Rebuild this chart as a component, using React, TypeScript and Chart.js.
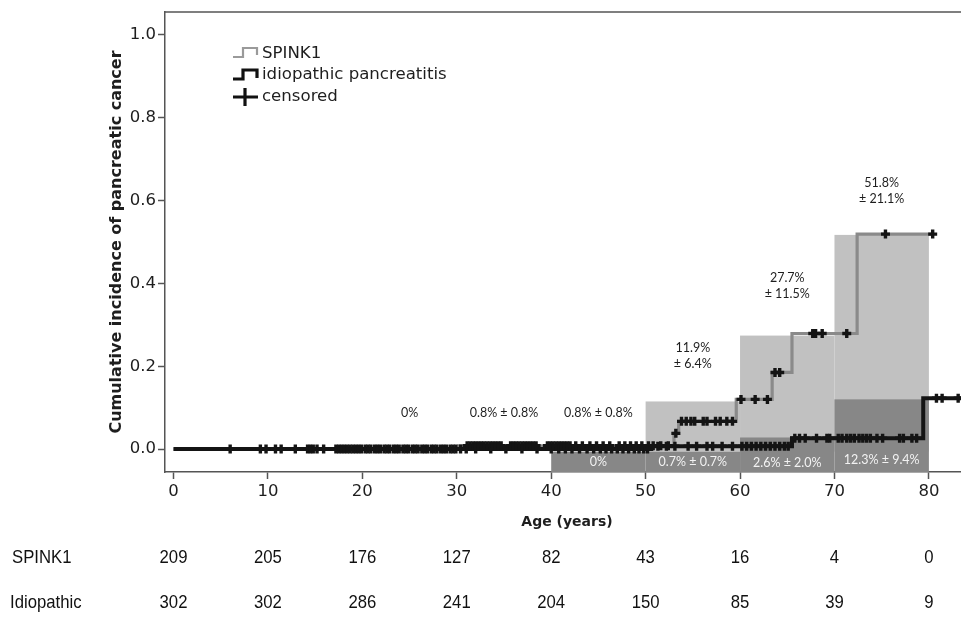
import React, { useEffect, useRef } from 'react';
import { Chart, registerables } from 'chart.js';

Chart.register(...registerables);

// ---- data ----
const xTickValues = [0, 10, 20, 30, 40, 50, 60, 70, 80];
const yTickValues = [0, 0.2, 0.4, 0.6, 0.8, 1.0];

// Kaplan-Meier style step curves (event ages and cumulative incidence after the event)
const spinkAges = [0, 30.2, 53.0, 53.5, 59.6, 63.4, 65.5, 72.4, 80.4];
const spinkLevels = [0, 0.008, 0.038, 0.067, 0.12, 0.185, 0.279, 0.519, 0.519];
const idioAges = [0, 50.6, 65.5, 79.4, 84];
const idioLevels = [0, 0.007, 0.026, 0.123, 0.123];

// censored observations (ages)
const spinkCensorAges = [31.1, 31.4, 31.7, 32.0, 32.3, 32.6, 32.9, 33.2, 33.5, 33.8, 34.1, 34.4, 34.7, 35.7, 36.0, 36.3, 36.6, 36.9, 37.2, 37.5, 37.8, 38.1, 38.4, 39.6, 39.9, 40.2, 40.5, 40.8, 41.1, 41.4, 41.7, 42.0, 42.6, 43.3, 44.1, 44.8, 45.5, 46.2, 47.2, 47.8, 48.4, 49.0, 49.6, 50.3, 50.8, 51.6, 52.4, 53.2, 53.8, 54.3, 54.8, 55.2, 56.1, 56.5, 57.4, 57.9, 58.6, 59.2, 60.1, 61.6, 62.9, 63.7, 64.2, 67.7, 68.0, 68.7, 71.3, 75.4, 80.4];
const idioCensorAges = [6.0, 9.2, 9.8, 10.8, 11.4, 12.9, 14.2, 14.5, 14.8, 15.2, 15.9, 17.2, 17.5, 17.8, 18.1, 18.4, 18.7, 19.0, 19.3, 19.6, 19.9, 20.3, 20.6, 20.9, 21.3, 21.6, 21.9, 22.3, 22.6, 22.9, 23.3, 23.6, 23.9, 24.3, 24.6, 24.9, 25.3, 25.6, 25.9, 26.3, 26.6, 26.9, 27.3, 27.6, 27.9, 28.3, 28.6, 28.9, 29.3, 29.6, 29.9, 30.4, 31.0, 32.0, 33.6, 35.2, 36.9, 38.5, 40.0, 40.8, 41.5, 42.2, 43.0, 43.8, 44.5, 45.2, 45.8, 46.4, 47.0, 47.6, 48.2, 48.8, 49.3, 49.8, 50.2, 51.3, 52.2, 53.1, 54.5, 55.4, 56.5, 57.1, 58.1, 59.2, 60.2, 60.7, 61.2, 61.7, 62.2, 62.7, 63.2, 63.7, 64.2, 64.7, 65.1, 65.8, 66.3, 66.9, 68.1, 69.2, 69.5, 70.4, 70.8, 71.3, 71.7, 72.1, 72.6, 73.0, 73.4, 73.8, 74.5, 75.1, 76.9, 77.3, 78.2, 78.7, 80.8, 81.4, 83.1];

// confidence bands per decade
const spinkBandStarts = [50, 60, 70];
const spinkBandEnds = [60, 70, 80];
const spinkBandUpper = [0.115, 0.274, 0.517];
const idioBandStarts = [40, 50, 60, 70];
const idioBandEnds = [50, 60, 70, 80];
const idioBandUpper = [-0.006, -0.006, 0.028, 0.12];

// interval estimates
const spinkLabelAges = [25, 35, 45, 55, 65, 75];
const spinkLabelLines = [['0%'], ['0.8% ± 0.8%'], ['0.8% ± 0.8%'], ['11.9%', '± 6.4%'], ['27.7%', '± 11.5%'], ['51.8%', '± 21.1%']];
const idioLabelAges = [45, 55, 65, 75];
const idioLabelTexts = ['0%', '0.7% ± 0.7%', '2.6% ± 2.0%', '12.3% ± 9.4%'];

// number at risk
const riskGroups = ['SPINK1', 'Idiopathic'];
const spinkAtRisk = [209, 205, 176, 127, 82, 43, 16, 4, 0];
const idioAtRisk = [302, 302, 286, 241, 204, 150, 85, 39, 9];

// ---- layout / style ----
const W = 961;
const H = 618;
const LIGHT = '#c1c1c1';
const DARK = '#878787';
const LIGHT_FLOOR = -0.006;
const DARK_FLOOR = -0.056;
const AXIS = '#555555';
const TEXT = '#1e1e1e';
const spinkLabelY = [0.0865, 0.0865, 0.0865, 0.243, 0.413, 0.642];
const idioLabelY = [-0.031, -0.031, -0.034, -0.027];

function levelAt(ages: number[], levels: number[], age: number) {
  let v = levels[0];
  for (let i = 0; i < ages.length; i++) if (ages[i] <= age) v = levels[i];
  return v;
}

const kmPlugin = {
  id: 'kmExtras',
  beforeDatasetsDraw(chart: any) {
    const { ctx, chartArea: ca, scales } = chart;
    const x = scales.x;
    const y = scales.y;
    ctx.save();
    ctx.beginPath();
    ctx.rect(ca.left, ca.top, ca.right - ca.left, ca.bottom - ca.top);
    ctx.clip();
    ctx.fillStyle = LIGHT;
    spinkBandStarts.forEach((s, i) => {
      const x0 = x.getPixelForValue(s);
      const x1 = x.getPixelForValue(spinkBandEnds[i]);
      const y0 = y.getPixelForValue(spinkBandUpper[i]);
      const y1 = y.getPixelForValue(LIGHT_FLOOR);
      ctx.fillRect(x0, y0, x1 - x0, y1 - y0);
    });
    ctx.fillStyle = DARK;
    idioBandStarts.forEach((s, i) => {
      const x0 = x.getPixelForValue(s);
      const x1 = x.getPixelForValue(idioBandEnds[i]);
      const y0 = y.getPixelForValue(idioBandUpper[i]);
      const y1 = y.getPixelForValue(DARK_FLOOR);
      ctx.fillRect(x0, y0, x1 - x0, y1 - y0);
    });
    ctx.fillStyle = '#f2f2f2';
    ctx.font = '12.5px Lato';
    ctx.textAlign = 'center';
    ctx.textBaseline = 'middle';
    idioLabelAges.forEach((a, i) => {
      ctx.fillText(idioLabelTexts[i], x.getPixelForValue(a), y.getPixelForValue(idioLabelY[i]));
    });
    ctx.restore();
  },
  afterDraw(chart: any) {
    const { ctx, chartArea: ca, scales } = chart;
    const x = scales.x;
    const y = scales.y;
    ctx.save();
    // top frame
    ctx.strokeStyle = AXIS;
    ctx.lineWidth = 1.5;
    ctx.beginPath();
    ctx.moveTo(ca.left, ca.top);
    ctx.lineTo(ca.right, ca.top);
    ctx.stroke();

    // interval estimates for SPINK1
    ctx.fillStyle = TEXT;
    ctx.font = '12.5px Lato';
    ctx.textAlign = 'center';
    ctx.textBaseline = 'middle';
    spinkLabelAges.forEach((a, i) => {
      const px = x.getPixelForValue(a);
      const py = y.getPixelForValue(spinkLabelY[i]);
      spinkLabelLines[i].forEach((t, j) => ctx.fillText(t, px, py + j * 16));
    });

    // legend
    ctx.lineJoin = 'miter';
    ctx.strokeStyle = '#9a9a9a';
    ctx.lineWidth = 2.2;
    ctx.beginPath();
    ctx.moveTo(233, 57); ctx.lineTo(243, 57); ctx.lineTo(243, 48); ctx.lineTo(257, 48); ctx.lineTo(257, 55);
    ctx.stroke();
    ctx.strokeStyle = '#111111';
    ctx.lineWidth = 3.2;
    ctx.beginPath();
    ctx.moveTo(233, 79); ctx.lineTo(243, 79); ctx.lineTo(243, 70); ctx.lineTo(257, 70); ctx.lineTo(257, 78);
    ctx.stroke();
    ctx.beginPath();
    ctx.moveTo(233, 97); ctx.lineTo(258, 97);
    ctx.moveTo(245, 88); ctx.lineTo(245, 106);
    ctx.stroke();
    ctx.fillStyle = TEXT;
    ctx.font = '16.6px "DejaVu Sans"';
    ctx.textAlign = 'left';
    ctx.textBaseline = 'middle';
    ctx.fillText('SPINK1', 262, 54);
    ctx.fillText('idiopathic pancreatitis', 262, 75);
    ctx.fillText('censored', 262, 97);

    // axis titles
    ctx.font = 'bold 14px "DejaVu Sans"';
    ctx.textAlign = 'center';
    ctx.fillText('Age (years)', (ca.left + ca.right) / 2 + 4, 522);
    ctx.save();
    ctx.font = 'bold 16px "DejaVu Sans"';
    ctx.translate(117, 242);
    ctx.rotate(-Math.PI / 2);
    ctx.fillText('Cumulative incidence of pancreatic cancer', 0, 0);
    ctx.restore();

    // number at risk table (condensed sans)
    ctx.fillStyle = '#111111';
    const rows = [spinkAtRisk, idioAtRisk];
    const rowY = [558, 603];
    const rowX = [12, 10];
    const sx = 0.88;
    rows.forEach((vals, r) => {
      ctx.save();
      ctx.font = '19px "Liberation Sans"';
      ctx.scale(sx, 1);
      ctx.textAlign = 'left';
      ctx.fillText(riskGroups[r], rowX[r] / sx, rowY[r]);
      ctx.textAlign = 'center';
      vals.forEach((v, i) => ctx.fillText(String(v), x.getPixelForValue(xTickValues[i]) / sx, rowY[r]));
      ctx.restore();
    });
    ctx.restore();
  },
};

export default function App() {
  const ref = useRef<HTMLCanvasElement | null>(null);
  useEffect(() => {
    if (!ref.current) return;
    const spinkLine = spinkAges.map((a, i) => ({ x: a, y: spinkLevels[i] }));
    const idioLine = idioAges.map((a, i) => ({ x: a, y: idioLevels[i] }));
    const spinkCensor = spinkCensorAges.map((a) => ({ x: a, y: levelAt(spinkAges, spinkLevels, a) }));
    const idioCensor = idioCensorAges.map((a) => ({ x: a, y: levelAt(idioAges, idioLevels, a) }));
    const censorStyle = {
      showLine: false,
      pointStyle: 'cross',
      pointRadius: 4.5,
      pointBorderWidth: 3.4,
      pointBorderColor: '#141414',
      pointBackgroundColor: '#141414',
      borderColor: '#141414',
    };
    const chart = new Chart(ref.current, {
      type: 'line',
      data: {
        datasets: [
          { label: 'spinkCensor', data: spinkCensor, ...censorStyle } as any,
          { label: 'idioCensor', data: idioCensor, ...censorStyle } as any,
          {
            label: 'idiopathic pancreatitis',
            data: idioLine,
            stepped: 'before',
            borderColor: '#141414',
            borderWidth: 4,
            pointRadius: 0,
            fill: false,
          },
          {
            label: 'SPINK1',
            data: spinkLine,
            stepped: 'before',
            borderColor: '#8a8a8a',
            borderWidth: 3.2,
            pointRadius: 0,
            fill: false,
          },
        ],
      },
      options: {
        responsive: false,
        animation: false,
        devicePixelRatio: 1,
        layout: { padding: { top: 10, left: 0, right: 0, bottom: 0 }, autoPadding: false },
        plugins: { legend: { display: false }, tooltip: { enabled: false } },
        scales: {
          x: {
            type: 'linear',
            min: -0.9,
            max: 83.4,
            afterBuildTicks: (s: any) => {
              s.ticks = xTickValues.map((v) => ({ value: v }));
            },
            afterFit: (s: any) => {
              s.height = 146;
            },
            grid: { display: true, drawOnChartArea: false, drawTicks: true, tickLength: 7, tickColor: AXIS, tickWidth: 1.5 },
            border: { display: true, color: AXIS, width: 1.5 },
            ticks: { font: { family: 'DejaVu Sans', size: 16.5 }, color: TEXT, padding: 3, maxRotation: 0, autoSkip: false },
          },
          y: {
            type: 'linear',
            min: -0.0553,
            max: 1.0553,
            afterBuildTicks: (s: any) => {
              s.ticks = yTickValues.map((v) => ({ value: v }));
            },
            afterFit: (s: any) => {
              s.width = 165;
            },
            grid: { display: true, drawOnChartArea: false, drawTicks: true, tickLength: 7, tickColor: AXIS, tickWidth: 1.5 },
            border: { display: true, color: AXIS, width: 1.5 },
            ticks: {
              font: { family: 'DejaVu Sans', size: 16.5 },
              color: TEXT,
              padding: 2,
              autoSkip: false,
              callback: (v: any) => Number(v).toFixed(1),
            },
          },
        },
      },
      plugins: [kmPlugin],
    });
    return () => chart.destroy();
  }, []);
  return (
    <div style={{ position: 'absolute', left: 0, top: 0, width: W, height: H, background: '#ffffff' }}>
      <canvas ref={ref} width={W} height={H} style={{ display: 'block', width: W, height: H }} />
    </div>
  );
}
